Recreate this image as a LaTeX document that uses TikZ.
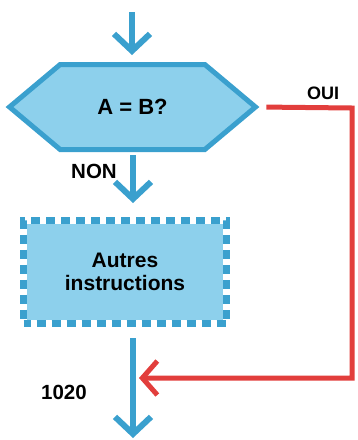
\documentclass[tikz,border=0pt]{standalone}
\usepackage{fontspec}
\setmainfont{Liberation Sans}
\usetikzlibrary{shapes,arrows.meta,positioning,calc}

\definecolor{flowblue}{RGB}{58,160,206}
\definecolor{flowfill}{RGB}{141,208,236}
\definecolor{flowred}{RGB}{226,62,60}

\begin{document}
\begin{tikzpicture}[
    x=1pt, y=-1pt,
    font=\bfseries\fontsize{20.5}{22}\selectfont,
    flow/.style={draw=flowblue, line width=6pt,
                 -{Straight Barb[length=17pt,width=36pt]}},
    jump/.style={draw=flowred, line width=5pt, line join=miter,
                 -{Straight Barb[length=15pt,width=34pt]}},
    test/.style={signal, signal to=east and west,
                 signal pointer angle=80,
                 draw=flowblue, fill=flowfill, line width=5pt,
                 minimum width=246pt, minimum height=85pt,
                 inner sep=0pt, font=\bfseries\fontsize{22}{24}\selectfont},
    block/.style={rectangle, fill=flowfill, draw=white, line width=7pt,
                  minimum width=203pt, minimum height=103pt,
                  align=center, font=\bfseries\fontsize{21}{23}\selectfont,
                  postaction={draw=flowblue, dash pattern=on 9pt off 6pt,
                              dash phase=2pt}},
    tag/.style={inner sep=0pt}]

    \useasboundingbox (0,0) rectangle (357,440);

    \node[test] (cond) at (132.5,107) {A = B?};
    \node[block] (other) at (125,272) {Autres\\instructions};

    \coordinate (start) at (132,12);
    \coordinate (stop) at (133,438);
    \coordinate (merge) at (133,378);
    \coordinate (turn) at (352,108);

    \draw[flow] (start) -- (132,55);
    \draw[flow, shorten <=3pt, shorten >=14pt] (cond.south -| 133,0) -- (other.north -| 133,0);
    \draw[flow, shorten <=11pt] (other.south -| stop) -- (stop);

    % branch back into the main line
    \draw[jump, shorten <=7pt, shorten >=6pt]
        (cond.east) -- (turn) -- (turn |- merge) -- (merge);

    \node[tag, font=\bfseries\fontsize{18}{20}\selectfont] (yes) at (323,93) {OUI};
    \node[tag] (no) at (94,171) {NON};
    \node[tag] (line) at (64,392) {1020};
\end{tikzpicture}
\end{document}
